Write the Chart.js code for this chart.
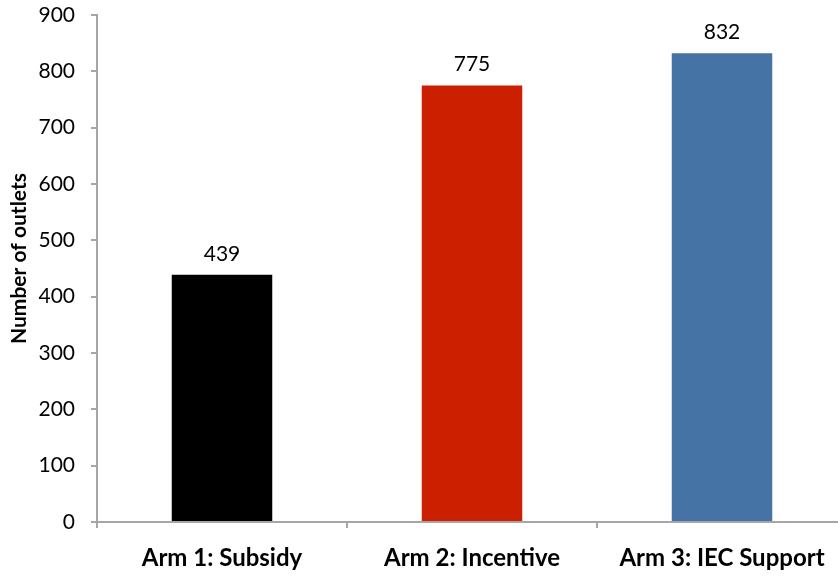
<!DOCTYPE html>
<html>
<head>
<meta charset="utf-8">
<script src="https://cdn.jsdelivr.net/npm/chart.js@4/dist/chart.umd.min.js"></script>
<style>
  html, body { margin: 0; padding: 0; background: #fff; overflow: hidden; }
  #frame { width: 838px; height: 581px; overflow: hidden; position: relative; }
  /* plot runs slightly past the right edge, so the canvas is a bit wider than the frame */
  #wrap { width: 847px; height: 581px; position: relative; }
</style>
</head>
<body>
<div id="frame"><div id="wrap"><canvas id="c"></canvas></div></div>
<script>
const categories = ['Arm 1: Subsidy', 'Arm 2: Incentive', 'Arm 3: IEC Support'];
const outlets = [439, 775, 832];
const barColors = ['#000000', '#CC1F00', '#4573A5'];
const yTicks = [0, 100, 200, 300, 400, 500, 600, 700, 800, 900];
const yTitle = 'Number of outlets';

const FONT = 'Lato, "Open Sans", sans-serif';
const AXIS = '#A6A6A6';

// Value labels centred above each bar
const valueLabels = {
  id: 'valueLabels',
  afterDatasetsDraw(chart) {
    const { ctx } = chart;
    const meta = chart.getDatasetMeta(0);
    ctx.save();
    ctx.font = '21px ' + FONT;
    ctx.fillStyle = '#000';
    ctx.textAlign = 'center';
    ctx.textBaseline = 'alphabetic';
    meta.data.forEach((bar, i) => {
      ctx.fillText(String(outlets[i]), bar.x, bar.y - 14);
    });
    ctx.restore();
  }
};

// Rotated y-axis title, sitting a little above the plot's vertical centre
const yAxisTitle = {
  id: 'yAxisTitle',
  afterDraw(chart) {
    const { ctx, chartArea } = chart;
    ctx.save();
    ctx.font = 'bold 21px ' + FONT;
    ctx.fillStyle = '#000';
    ctx.textAlign = 'center';
    ctx.textBaseline = 'middle';
    ctx.translate(19, (chartArea.top + chartArea.bottom) / 2 - 10);
    ctx.rotate(-Math.PI / 2);
    ctx.fillText(yTitle, 0, 0);
    ctx.restore();
  }
};

new Chart(document.getElementById('c'), {
  type: 'bar',
  data: {
    labels: categories,
    datasets: [{
      data: outlets,
      backgroundColor: barColors,
      borderWidth: 0,
      categoryPercentage: 1,
      barPercentage: 0.402
    }]
  },
  options: {
    responsive: true,
    maintainAspectRatio: false,
    animation: false,
    layout: { padding: { top: 15, right: 0, left: 0, bottom: 0 } },
    plugins: { legend: { display: false }, tooltip: { enabled: false } },
    scales: {
      x: {
        grid: { drawOnChartArea: false, offset: true, color: AXIS, tickLength: 6, lineWidth: 2 },
        border: { color: AXIS, width: 2 },
        ticks: { color: '#000', font: { family: FONT, size: 24, weight: 'bold' }, padding: 16, maxRotation: 0 },
        afterFit(s) { s.height = 59; s.paddingLeft = 0; s.paddingRight = 0; }
      },
      y: {
        min: 0, max: 900,
        afterBuildTicks(s) { s.ticks = yTicks.map(v => ({ value: v })); },
        grid: { drawOnChartArea: false, color: AXIS, tickLength: 6, lineWidth: 2 },
        border: { color: AXIS, width: 2 },
        ticks: { color: '#000', font: { family: FONT, size: 21 }, padding: 16 },
        afterFit(s) { s.width = 97; s.paddingTop = 0; s.paddingBottom = 0; }
      }
    }
  },
  plugins: [valueLabels, yAxisTitle]
});
</script>
</body>
</html>
